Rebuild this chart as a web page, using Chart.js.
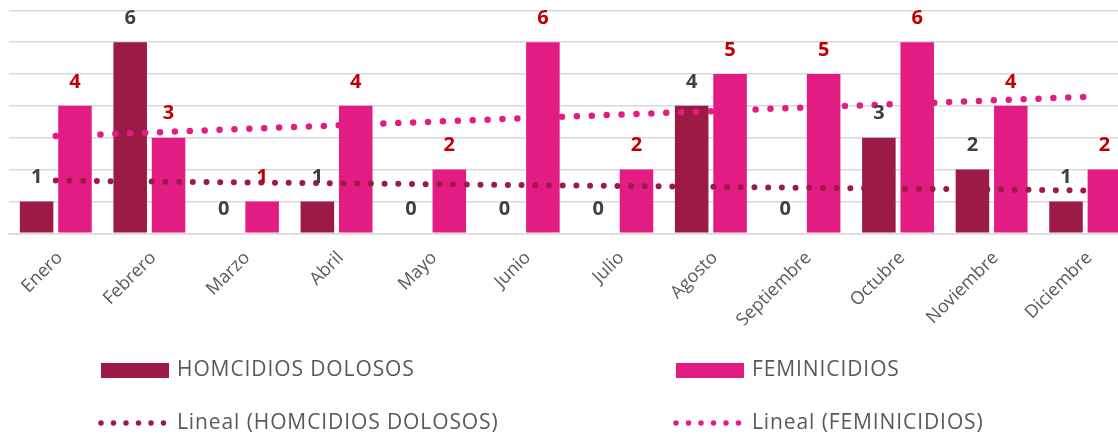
<!DOCTYPE html>
<html lang="es">
<head>
    <meta charset="UTF-8">
    <title>Homicidios dolosos y feminicidios por mes</title>
    <script src="https://cdn.jsdelivr.net/npm/chart.js@4.4.1/dist/chart.umd.min.js"></script>
    <style>
        body { margin: 0; overflow: hidden; background: #fff; }
        #wrap { position: relative; width: 1134px; height: 436px; }
    </style>
</head>
<body>
    <div id="wrap"><canvas id="chart"></canvas></div>

    <script>
        // Data
        const months = ['Enero', 'Febrero', 'Marzo', 'Abril', 'Mayo', 'Junio', 'Julio',
                        'Agosto', 'Septiembre', 'Octubre', 'Noviembre', 'Diciembre'];
        const homicidios = [1, 6, 0, 1, 0, 0, 0, 4, 0, 3, 2, 1];
        const feminicidios = [4, 3, 1, 4, 2, 6, 2, 5, 5, 6, 4, 2];
        const yTicks = [0, 1, 2, 3, 4, 5, 6, 7];

        const HOM_COLOR = '#9C1B44';
        const FEM_COLOR = '#E31C84';
        const FONT = '"Open Sans", "Noto Sans", sans-serif';

        // Excel style linear trendline (least squares over x = 1..n)
        function linearTrend(values) {
            const n = values.length;
            const xs = values.map((_, i) => i + 1);
            const mx = xs.reduce((a, b) => a + b, 0) / n;
            const my = values.reduce((a, b) => a + b, 0) / n;
            let sxy = 0, sxx = 0;
            xs.forEach((x, i) => {
                sxy += (x - mx) * (values[i] - my);
                sxx += (x - mx) * (x - mx);
            });
            const slope = sxy / sxx;
            return xs.map(x => my + slope * (x - mx));
        }

        // Value labels above the bars
        const barLabels = {
            id: 'barLabels',
            afterDraw(chart) {
                const ctx = chart.ctx;
                ctx.save();
                ctx.font = 'bold 20px ' + FONT;
                ctx.textAlign = 'center';
                ctx.textBaseline = 'middle';
                chart.data.datasets.forEach((ds, di) => {
                    const meta = chart.getDatasetMeta(di);
                    if (meta.type !== 'bar') return;
                    ctx.fillStyle = ds.labelColor;
                    meta.data.forEach((bar, i) => {
                        ctx.fillText(String(ds.data[i]), bar.x, bar.y - 24);
                    });
                });
                ctx.restore();
            }
        };

        // Two column legend at the bottom
        const bottomLegend = {
            id: 'bottomLegend',
            afterDraw(chart) {
                const ctx = chart.ctx;
                const cols = [101, 676];
                const rows = [370.5, 423];
                ctx.save();
                ctx.font = '21px ' + FONT;
                ctx.letterSpacing = '0.9px';
                ctx.textBaseline = 'middle';
                chart.data.datasets.forEach((ds, di) => {
                    const x = cols[di % 2];
                    const y = rows[Math.floor(di / 2)];
                    if (ds.type === 'line') {
                        ctx.strokeStyle = ds.borderColor;
                        ctx.lineWidth = 5.5;
                        ctx.lineCap = 'round';
                        ctx.setLineDash([0, 12.5]);
                        ctx.beginPath();
                        ctx.moveTo(x, y);
                        ctx.lineTo(x + 64, y);
                        ctx.stroke();
                        ctx.setLineDash([]);
                    } else {
                        ctx.fillStyle = ds.backgroundColor;
                        ctx.fillRect(x, y - 7.5, 68, 15);
                    }
                    ctx.fillStyle = '#595959';
                    ctx.fillText(ds.label, x + 76, y);
                });
                ctx.restore();
            }
        };

        const ctx = document.getElementById('chart').getContext('2d');
        new Chart(ctx, {
            data: {
                labels: months,
                datasets: [
                    {
                        type: 'bar',
                        label: 'HOMCIDIOS DOLOSOS',
                        data: homicidios,
                        backgroundColor: HOM_COLOR,
                        labelColor: '#404040',
                        categoryPercentage: 0.82,
                        barPercentage: 0.874,
                        order: 1
                    },
                    {
                        type: 'bar',
                        label: 'FEMINICIDIOS',
                        data: feminicidios,
                        backgroundColor: FEM_COLOR,
                        labelColor: '#C00000',
                        categoryPercentage: 0.82,
                        barPercentage: 0.874,
                        order: 1
                    },
                    {
                        type: 'line',
                        label: 'Lineal (HOMCIDIOS DOLOSOS)',
                        data: linearTrend(homicidios),
                        borderColor: HOM_COLOR,
                        borderWidth: 6,
                        borderCapStyle: 'round',
                        borderDash: [0, 13.7],
                        pointRadius: 0,
                        fill: false,
                        order: 0
                    },
                    {
                        type: 'line',
                        label: 'Lineal (FEMINICIDIOS)',
                        data: linearTrend(feminicidios),
                        borderColor: FEM_COLOR,
                        borderWidth: 6.5,
                        borderCapStyle: 'round',
                        borderDash: [0, 14.9],
                        pointRadius: 0,
                        fill: false,
                        order: 0
                    }
                ]
            },
            options: {
                responsive: true,
                maintainAspectRatio: false,
                animation: false,
                devicePixelRatio: 1,
                layout: { padding: { left: 9, right: 2, top: 10.3, bottom: 110.7 } },
                plugins: {
                    legend: { display: false },
                    tooltip: { enabled: false }
                },
                scales: {
                    x: {
                        offset: true,
                        grid: { display: false },
                        border: { color: '#D9D9D9', width: 1.5 },
                        ticks: {
                            color: '#595959',
                            font: { family: FONT, size: 18 },
                            maxRotation: 45,
                            minRotation: 45,
                            padding: 6,
                            labelOffset: 4
                        },
                        afterFit(scale) { scale.height = 92; }
                    },
                    y: {
                        min: yTicks[0],
                        max: yTicks[yTicks.length - 1],
                        afterBuildTicks(scale) { scale.ticks = yTicks.map(v => ({ value: v })); },
                        grid: { color: '#D9D9D9', lineWidth: 1.5, drawTicks: false },
                        border: { display: false },
                        ticks: { display: false },
                        afterFit(scale) { scale.width = 0; }
                    }
                }
            },
            plugins: [barLabels, bottomLegend]
        });
    </script>
</body>
</html>
